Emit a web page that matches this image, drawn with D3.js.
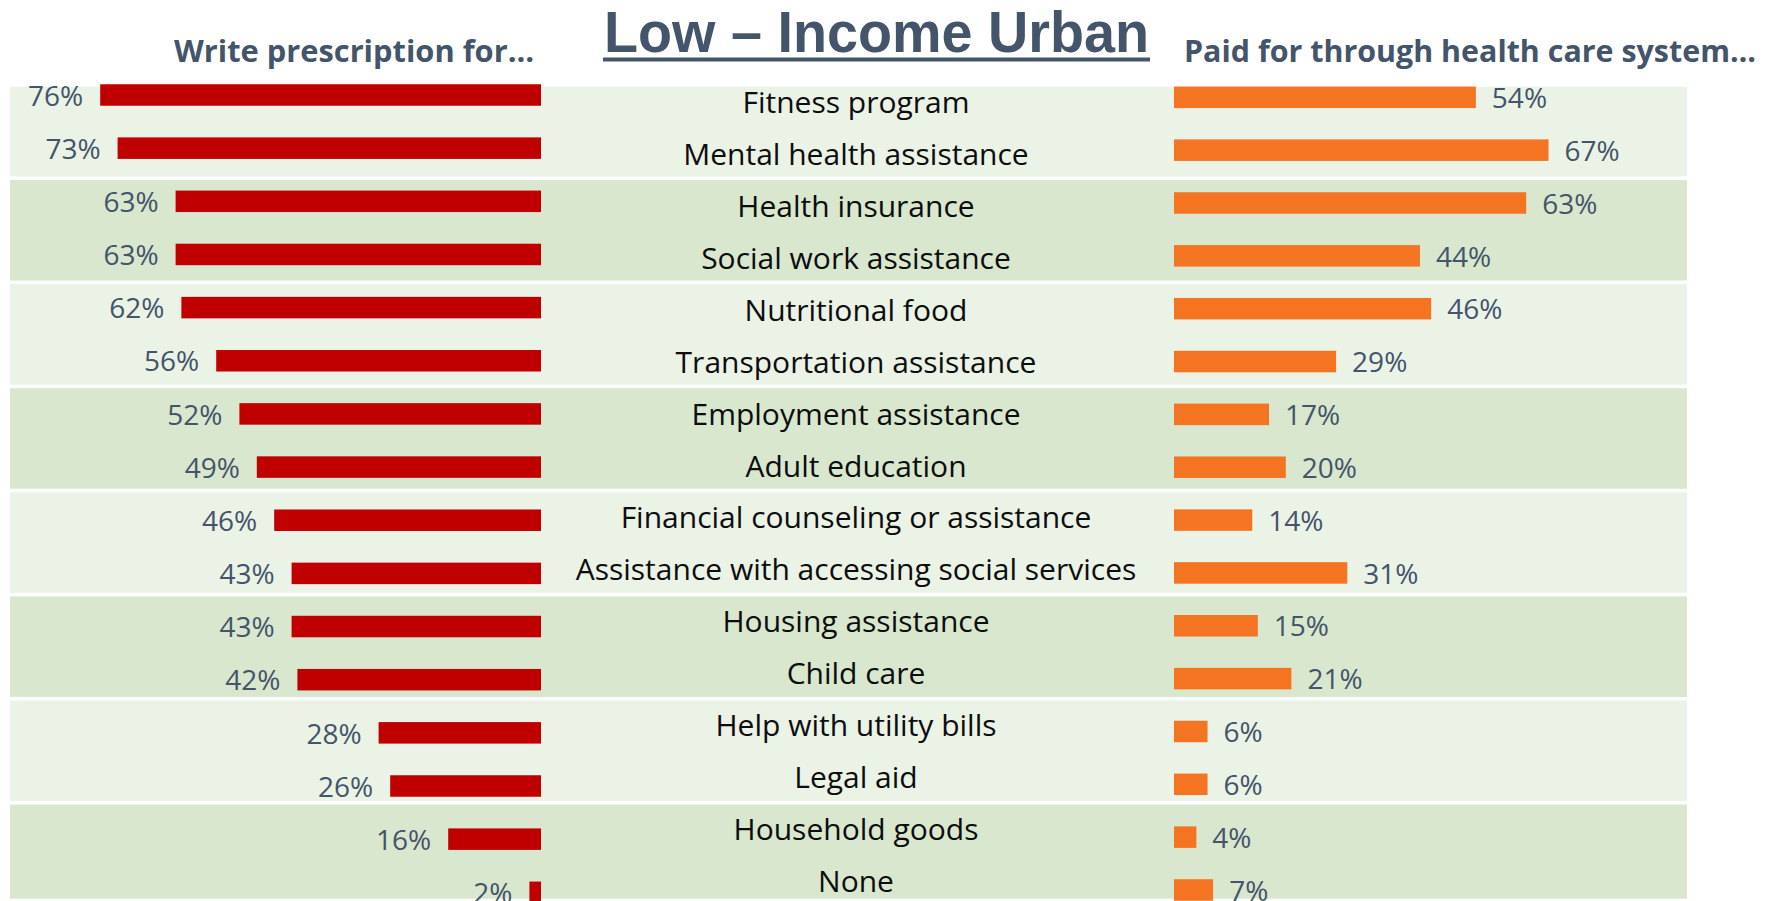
<!DOCTYPE html>
<html>
<head>
<meta charset="utf-8">
<script src="https://cdn.jsdelivr.net/npm/d3@7/dist/d3.min.js"></script>
<style>
  html, body { margin: 0; padding: 0; background: #ffffff; }
  svg { display: block; }
</style>
</head>
<body>
<svg id="chart" width="1779" height="901"></svg>
<script>
// Survey results: services physicians would prescribe vs. services that should be paid for
const categories = [
  "Fitness program",
  "Mental health assistance",
  "Health insurance",
  "Social work assistance",
  "Nutritional food",
  "Transportation assistance",
  "Employment assistance",
  "Adult education",
  "Financial counseling or assistance",
  "Assistance with accessing social services",
  "Housing assistance",
  "Child care",
  "Help with utility bills",
  "Legal aid",
  "Household goods",
  "None"
];
const prescribeValues = [76, 73, 63, 63, 62, 56, 52, 49, 46, 43, 43, 42, 28, 26, 16, 2];
const paidValues      = [54, 67, 63, 44, 46, 29, 17, 20, 14, 31, 15, 21, 6, 6, 4, 7];

const titleText = "Low \u2013 Income Urban";
const leftHeader = "Write prescription for\u2026";
const rightHeader = "Paid for through health care system\u2026";

const W = 1779, H = 901;
const svg = d3.select("#chart");

const slate = "#44546A";
const red = "#C00000";
const orange = "#F47422";
const bandLight = "#EBF2E6";
const bandDark = "#D8E7CD";

// ---- scales ----
const xLeft  = d3.scaleLinear().domain([0, 100]).range([541, 541 - 580]);   // bars grow leftwards
const xRight = d3.scaleLinear().domain([0, 100]).range([1174, 1174 + 559]); // bars grow rightwards

const yLeft  = d3.scalePoint().domain(categories).range([95, 892.3]);
const yRight = d3.scalePoint().domain(categories).range([97.3, 890]);
const yLabel = d3.scalePoint().domain(categories).range([113.3, 891.7]);

const barH = 21.5;

// ---- background bands, one per pair of rows ----
const plotTop = 86.7, plotBottom = 898.7, bandGap = 3.5;
const pairs = d3.range(categories.length / 2);
const pairEdge = d3.scaleLinear().domain([0, pairs.length]).range([74.1, 74.1 + 104.1 * pairs.length]);
const bandTop = k => Math.max(pairEdge(k) + bandGap / 2, plotTop);
const bandBottom = k => Math.min(pairEdge(k + 1) - bandGap / 2, plotBottom);

svg.append("g").attr("class", "bands")
  .selectAll("rect")
  .data(pairs)
  .join("rect")
  .attr("x", 10)
  .attr("width", 1687 - 10)
  .attr("y", k => bandTop(k))
  .attr("height", k => bandBottom(k) - bandTop(k))
  .attr("fill", k => (k % 2 === 0 ? bandLight : bandDark));

// ---- title and column headers ----
svg.append("text")
  .attr("x", 876.5)
  .attr("y", 51.5)
  .attr("text-anchor", "middle")
  .attr("font-family", "'Liberation Sans', Arial, sans-serif")
  .attr("font-weight", "bold")
  .attr("font-size", 58)
  .attr("fill", slate)
  .attr("textLength", 545)
  .attr("lengthAdjust", "spacingAndGlyphs")
  .text(titleText);

svg.append("rect")
  .attr("x", 603)
  .attr("y", 57.5)
  .attr("width", 1150 - 603)
  .attr("height", 4)
  .attr("fill", slate);

svg.append("text")
  .attr("x", 534)
  .attr("y", 61.7)
  .attr("text-anchor", "end")
  .attr("font-family", "'Open Sans', sans-serif")
  .attr("font-weight", "bold")
  .attr("font-size", 31)
  .attr("fill", slate)
  .attr("textLength", 360)
  .attr("lengthAdjust", "spacingAndGlyphs")
  .text(leftHeader);

svg.append("text")
  .attr("x", 1184)
  .attr("y", 61.7)
  .attr("text-anchor", "start")
  .attr("font-family", "'Open Sans', sans-serif")
  .attr("font-weight", "bold")
  .attr("font-size", 31)
  .attr("fill", slate)
  .attr("textLength", 572)
  .attr("lengthAdjust", "spacingAndGlyphs")
  .text(rightHeader);

// ---- left bars: write prescription for ----
const leftData = categories.map((c, i) => ({ c, v: prescribeValues[i] }));
const rightData = categories.map((c, i) => ({ c, v: paidValues[i] }));

const gLeft = svg.append("g").attr("class", "left-bars");
gLeft.selectAll("rect")
  .data(leftData)
  .join("rect")
  .attr("x", d => xLeft(d.v))
  .attr("width", d => xLeft(0) - xLeft(d.v))
  .attr("y", d => yLeft(d.c) - barH / 2)
  .attr("height", barH)
  .attr("fill", red);

gLeft.selectAll("text")
  .data(leftData)
  .join("text")
  .attr("x", d => xLeft(d.v) - 17)
  .attr("y", d => yLeft(d.c) + 10.7)
  .attr("text-anchor", "end")
  .attr("font-family", "'Open Sans', sans-serif")
  .attr("font-size", 28)
  .attr("fill", slate)
  .text(d => d.v + "%");

// ---- right bars: paid for through health care system ----
const gRight = svg.append("g").attr("class", "right-bars");
gRight.selectAll("rect")
  .data(rightData)
  .join("rect")
  .attr("x", xRight(0))
  .attr("width", d => xRight(d.v) - xRight(0))
  .attr("y", d => yRight(d.c) - barH / 2)
  .attr("height", barH)
  .attr("fill", orange);

gRight.selectAll("text")
  .data(rightData)
  .join("text")
  .attr("x", d => xRight(d.v) + 16)
  .attr("y", d => yRight(d.c) + 10.7)
  .attr("text-anchor", "start")
  .attr("font-family", "'Open Sans', sans-serif")
  .attr("font-size", 28)
  .attr("fill", slate)
  .text(d => d.v + "%");

// ---- category labels in the middle column ----
svg.append("g").attr("class", "categories")
  .selectAll("text")
  .data(categories)
  .join("text")
  .attr("x", 856)
  .attr("y", d => yLabel(d))
  .attr("text-anchor", "middle")
  .attr("font-family", "'Open Sans', sans-serif")
  .attr("font-size", 30)
  .attr("fill", "#0d0d0d")
  .text(d => d);
</script>
</body>
</html>
